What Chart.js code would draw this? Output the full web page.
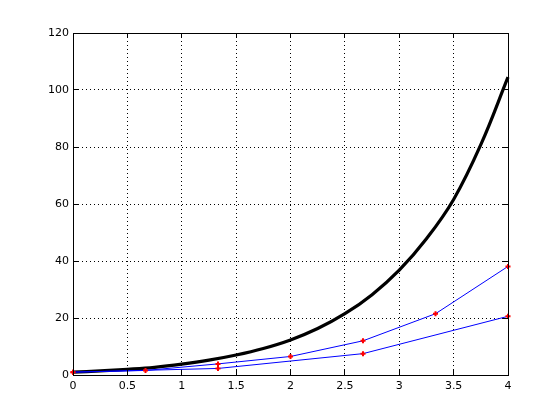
<!DOCTYPE html>
<html>
<head>
<meta charset="utf-8">
<script src="https://cdn.jsdelivr.net/npm/chart.js@4/dist/chart.umd.min.js"></script>
<style>
  html, body { margin: 0; padding: 0; background: #ffffff; }
  #wrap { width: 560px; height: 420px; }
</style>
</head>
<body>
<div id="wrap"><canvas id="c" width="560" height="420"></canvas></div>
<script>
// Exact solution curve (thick black)
const exactX = [0, 0.25, 0.5, 0.75, 1, 1.25, 1.5, 1.75, 2, 2.25, 2.5, 2.75, 3, 3.25, 3.5, 3.75, 4];
const exactY = [1, 1.45, 2.0, 2.7, 3.8, 5.2, 7.0, 9.3, 12.3, 16.3, 21.5, 28.2, 36.8, 47.8, 61.6, 80.8, 104.5];

// Euler approximation, step 2/3
const fineX = [0, 2/3, 4/3, 2, 8/3, 10/3, 4];
const fineY = [1, 1.6, 3.9, 6.5, 12.0, 21.5, 38.1];

// Euler approximation, step 4/3
const coarseX = [0, 4/3, 8/3, 4];
const coarseY = [1, 2.3, 7.5, 20.6];

// Tick labels
const xTickValues = [0, 0.5, 1, 1.5, 2, 2.5, 3, 3.5, 4];
const xTickLabels = ['0', '0.5', '1', '1.5', '2', '2.5', '3', '3.5', '4'];
const yTickValues = [0, 20, 40, 60, 80, 100, 120];
const yTickLabels = ['0', '20', '40', '60', '80', '100', '120'];

const toPts = (xs, ys) => xs.map((x, i) => ({ x: x, y: ys[i] }));

const boxAndTicks = {
  id: 'boxAndTicks',
  afterDraw(chart) {
    const { ctx, chartArea: a, scales } = chart;
    const L = 5;
    ctx.save();
    ctx.strokeStyle = '#000';
    ctx.lineWidth = 1;
    ctx.setLineDash([]);
    ctx.strokeRect(a.left + 0.5, a.top + 0.5, a.right - a.left, a.bottom - a.top);
    ctx.beginPath();
    xTickValues.forEach(v => {
      const px = Math.floor(scales.x.getPixelForValue(v)) + 0.5;
      ctx.moveTo(px, a.bottom); ctx.lineTo(px, a.bottom - L);
      ctx.moveTo(px, a.top); ctx.lineTo(px, a.top + L);
    });
    yTickValues.forEach(v => {
      const py = Math.floor(scales.y.getPixelForValue(v)) + 0.5;
      ctx.moveTo(a.left, py); ctx.lineTo(a.left + L, py);
      ctx.moveTo(a.right, py); ctx.lineTo(a.right - L, py);
    });
    ctx.stroke();
    ctx.restore();
  }
};

const font = { family: 'DejaVu Sans', size: 11 };

new Chart(document.getElementById('c'), {
  type: 'line',
  data: {
    datasets: [
      {
        data: toPts(exactX, exactY),
        borderColor: '#000000',
        borderWidth: 3.2,
        pointRadius: 0,
        tension: 0.4,
        fill: false,
        clip: false,
        order: 3
      },
      {
        data: toPts(fineX, fineY),
        borderColor: '#0000ff',
        borderWidth: 1,
        pointStyle: 'cross',
        pointRadius: 2.5,
        pointBorderWidth: 2,
        pointBorderColor: '#ff0000',
        pointBackgroundColor: '#ff0000',
        tension: 0,
        fill: false,
        clip: false,
        order: 1
      },
      {
        data: toPts(coarseX, coarseY),
        borderColor: '#0000ff',
        borderWidth: 1,
        pointStyle: 'cross',
        pointRadius: 2.5,
        pointBorderWidth: 2,
        pointBorderColor: '#ff0000',
        pointBackgroundColor: '#ff0000',
        tension: 0,
        fill: false,
        clip: false,
        order: 2
      }
    ]
  },
  options: {
    responsive: false,
    animation: false,
    devicePixelRatio: 1,
    layout: { padding: { left: 0, top: 33, right: 52, bottom: 0 } },
    plugins: { legend: { display: false }, tooltip: { enabled: false } },
    scales: {
      x: {
        type: 'linear',
        min: 0, max: 4,
        afterFit: s => { s.height = 45; },
        afterBuildTicks: s => { s.ticks = xTickValues.map(v => ({ value: v })); },
        ticks: {
          color: '#000', font: font, padding: 5, maxRotation: 0, autoSkip: false,
          callback: (v) => { const i = xTickValues.indexOf(v); return i >= 0 ? xTickLabels[i] : ''; }
        },
        grid: { color: '#000', lineWidth: 1, drawTicks: false },
        border: { display: true, color: '#000', width: 1, dash: [1, 3] }
      },
      y: {
        type: 'linear',
        min: 0, max: 120,
        afterFit: s => { s.width = 73; },
        afterBuildTicks: s => { s.ticks = yTickValues.map(v => ({ value: v })); },
        ticks: {
          color: '#000', font: font, padding: 4, autoSkip: false,
          callback: (v) => { const i = yTickValues.indexOf(v); return i >= 0 ? yTickLabels[i] : ''; }
        },
        grid: { color: '#000', lineWidth: 1, drawTicks: false },
        border: { display: true, color: '#000', width: 1, dash: [1, 3] }
      }
    }
  },
  plugins: [boxAndTicks]
});
</script>
</body>
</html>
